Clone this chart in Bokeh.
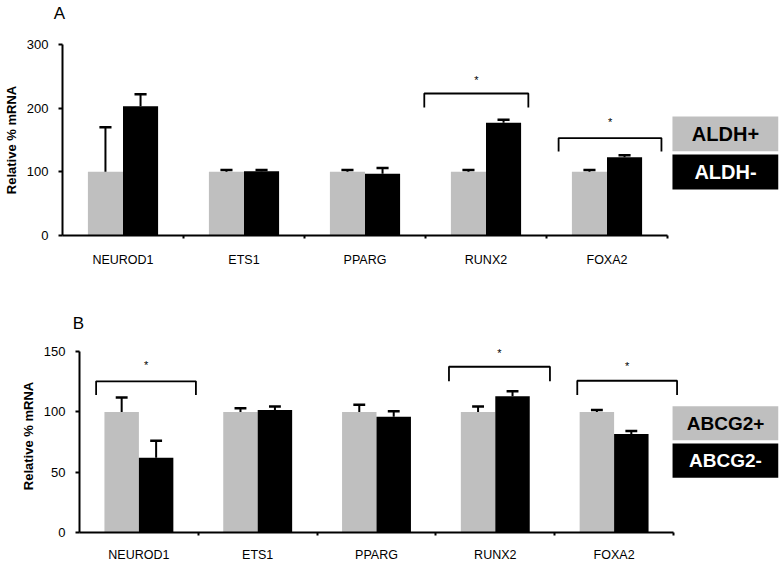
import numpy as np
from bokeh.plotting import figure
from bokeh.models import FixedTicker, Range1d
from bokeh.embed import file_html
from bokeh.resources import INLINE
from bokeh.core.properties import value

# ---------------- data ----------------
genes = ["NEUROD1", "ETS1", "PPARG", "RUNX2", "FOXA2"]

a_labels = ["ALDH+", "ALDH-"]
a_pos = [100, 100, 100, 100, 100]
a_pos_err = [70, 3, 3, 3, 3]
a_neg = [203, 101, 97, 177, 123]
a_neg_err = [19, 2, 9, 5, 3]
a_yticks = [0, 100, 200, 300]

b_labels = ["ABCG2+", "ABCG2-"]
b_pos = [100, 100, 100, 100, 100]
b_pos_err = [12, 3, 6, 4.5, 1.5]
b_neg = [62, 101.5, 96, 113, 81.6]
b_neg_err = [14, 3, 4.5, 4, 2.5]
b_yticks = [0, 50, 100, 150]

# significance brackets: (gene index, left offset, right offset, top, leg bottom, star y)
a_sig = [(3, -0.51, 0.35, 223, 201, 245), (4, -0.40, 0.45, 153, 132, 179)]
b_sig = [(0, -0.36, 0.48, 125.3, 114, 139), (3, -0.39, 0.46, 137.4, 125.3, 149),
         (4, -0.31, 0.53, 125.8, 114, 138)]

FONT = "Liberation Sans"
GRAY = "#bfbfbf"
BW = 0.29
W = 782


def letter(text, height, cx, cy_from_top):
    """A strip that only carries the panel letter."""
    p = figure(width=W, height=height, output_backend="svg", toolbar_location=None,
               x_range=Range1d(0, W), y_range=Range1d(height, 0),
               x_axis_location=None, y_axis_location=None,
               min_border_left=0, min_border_right=0, min_border_top=0, min_border_bottom=0)
    p.outline_line_color = None
    p.grid.visible = False
    p.text(x=[cx], y=[cy_from_top], text=[text], text_align="center", text_baseline="middle",
           text_font=value(FONT), text_font_size="17px", text_color="black")
    return p


def panel(pos, pos_err, neg, neg_err, yticks, y_end, labels, sig,
          height, mb_left, mb_top, mb_bottom, cat_px, frame_w, leg, leg_font, lab_standoff):
    x_end = -0.5 + frame_w / cat_px
    p = figure(width=W, height=height, output_backend="svg", toolbar_location=None,
               x_range=Range1d(-0.5, x_end), y_range=Range1d(0, y_end),
               min_border_left=mb_left, min_border_right=W - mb_left - frame_w,
               min_border_top=mb_top, min_border_bottom=mb_bottom)
    p.outline_line_color = None
    p.xgrid.visible = False
    p.ygrid.visible = False
    p.background_fill_color = "white"
    p.border_fill_color = "white"

    idx = np.arange(len(genes))
    xg = idx - BW / 2
    xb = idx + BW / 2
    p.vbar(x=xg, top=pos, width=BW, fill_color=GRAY, line_color=None)
    p.vbar(x=xb, top=neg, width=BW, fill_color="black", line_color=None)

    for xs, tops, errs in ((xg, pos, pos_err), (xb, neg, neg_err)):
        tops = np.array(tops, dtype=float)
        hi = tops + np.array(errs, dtype=float)
        p.segment(x0=xs, y0=tops, x1=xs, y1=hi, line_color="black", line_width=2)
        p.segment(x0=xs - 0.05, y0=hi, x1=xs + 0.05, y1=hi, line_color="black", line_width=2.5)

    # brackets and stars
    for (gi, lo, ro, top, bot, sy) in sig:
        xl, xr = gi + lo, gi + ro
        p.multi_line(xs=[[xl, xl, xr, xr]], ys=[[bot, top, top, bot]], line_color="black",
                     line_width=1.8)
        p.text(x=[(xl + xr) / 2], y=[sy], text=["*"], text_align="center",
               text_baseline="middle", text_font=value(FONT), text_font_size="11px",
               text_color="black")

    # legend boxes
    (l, t1, b1, t2, b2) = leg
    r = x_end
    p.quad(left=[l, l], right=[r, r], top=[t1, t2], bottom=[b1, b2],
           fill_color=[GRAY, "black"], line_color=None)
    p.text(x=[(l + r) / 2] * 2, y=[(t1 + b1) / 2, (t2 + b2) / 2], text=labels,
           text_align="center", text_baseline="middle", text_font=value(FONT),
           text_font_size=leg_font, text_font_style="bold", text_color=["black", "white"])

    # x axis
    xa = p.xaxis[0]
    xa.ticker = FixedTicker(ticks=list(idx), minor_ticks=[0.5, 1.5, 2.5, 3.5, 4.5])
    xa.major_label_overrides = {int(i): g for i, g in zip(idx, genes)}
    xa.bounds = (-0.5, 4.5)
    xa.axis_line_width = 2
    xa.axis_line_color = "black"
    xa.major_tick_out = 0
    xa.major_tick_in = 0
    xa.minor_tick_out = 3
    xa.minor_tick_in = 0
    xa.minor_tick_line_width = 2
    xa.major_label_standoff = lab_standoff
    xa.major_label_text_font = FONT
    xa.major_label_text_font_size = "12.5px"
    xa.major_label_text_color = "black"

    ya = p.yaxis[0]
    ya.ticker = FixedTicker(ticks=yticks, minor_ticks=[])
    ya.bounds = (0, yticks[-1])
    ya.axis_line_width = 2
    ya.axis_line_color = "black"
    ya.major_tick_out = 4
    ya.major_tick_in = 0
    ya.major_tick_line_width = 2
    ya.major_label_standoff = 10
    ya.major_label_text_font = FONT
    ya.major_label_text_font_size = "13px"
    ya.major_label_text_color = "black"
    ya.axis_label = "Relative % mRNA"
    ya.axis_label_text_font = FONT
    ya.axis_label_text_font_size = "13px"
    ya.axis_label_text_font_style = "bold"
    ya.axis_label_text_color = "black"
    ya.axis_label_standoff = 5
    return p


tA = letter("A", 26, 58.8, 12.5)
pA = panel(a_pos, a_pos_err, a_neg, a_neg_err, a_yticks, 300, a_labels, a_sig,
           height=257, mb_left=62, mb_top=18, mb_bottom=48, cat_px=121, frame_w=716,
           leg=(4.541, 186.8, 132.3, 127.2, 72.2), leg_font="20px", lab_standoff=14)
tB = letter("B", 52, 78, 40)
pB = panel(b_pos, b_pos_err, b_neg, b_neg_err, b_yticks, 160, b_labels, b_sig,
           height=229, mb_left=79, mb_top=4, mb_bottom=27, cat_px=118.8, frame_w=699,
           leg=(4.492, 104.7, 76.5, 73.7, 45.3), leg_font="19px", lab_standoff=12)

open("out.html", "w").write(file_html([tA, pA, tB, pB], INLINE))
